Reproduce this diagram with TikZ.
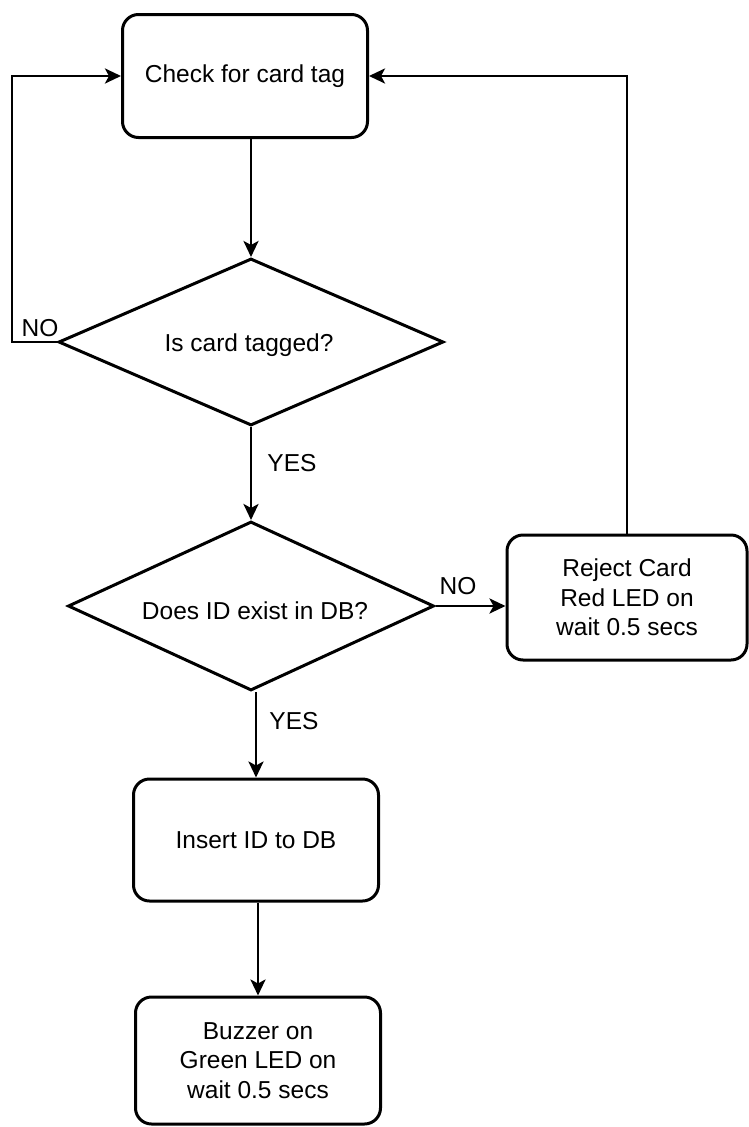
\documentclass[tikz,border=0pt]{standalone}
\usepackage{fontspec}
\setmainfont{Liberation Sans}
\usetikzlibrary{shapes.geometric,arrows.meta}
\begin{document}
\begin{tikzpicture}[x=1pt,y=-1pt,
  every node/.style={font=\fontsize{24.5}{29.5}\selectfont},
  procbox/.style={draw,line width=3pt,rounded corners=16pt,inner sep=0pt,align=center},
  decision/.style={draw,diamond,line width=3pt,inner sep=0pt,align=center},
  flow/.style={line width=2.8pt,-{Stealth[length=16pt,width=15pt,inset=4pt]}},
  lbl/.style={inner sep=0pt}
]
\useasboundingbox[fill=white] (0,0) rectangle (748,1127);

\node[procbox,minimum width=245pt,minimum height=123pt] (check) at (245,76) {Check for card tag};
\node[decision,minimum width=385pt,minimum height=167pt] (tagged) at (251,342) {};
\node at (249,345) {Is card tagged?};
\node[decision,minimum width=366pt,minimum height=169pt] (exist) at (251,606) {};
\node at (255,611) {Does ID exist in DB?};
\node[procbox,minimum width=240pt,minimum height=125pt] (reject) at (627,597.5) {Reject Card\\Red LED on\\wait 0.5 secs};
\node[procbox,minimum width=245pt,minimum height=122pt] (insert) at (256,840) {Insert ID to DB};
\node[procbox,minimum width=245pt,minimum height=127pt] (buzzer) at (258,1060.5) {Buzzer on\\Green LED on\\wait 0.5 secs};

\coordinate (nl1) at (12,342);
\coordinate (nl2) at (12,76);
\coordinate (rl) at (627,76);

\draw[flow] (check.south -| tagged.north) -- (tagged.north);
\draw[flow] (tagged.west) -- (nl1) -- (nl2) -- (check.west);
\draw[flow] (tagged.south) -- (exist.north);
\draw[flow] (exist.east) -- (reject.west |- exist.east);
\draw[flow] (reject.north) -- (rl) -- (check.east);
\draw[flow] (exist.south -| insert.north) -- (insert.north);
\draw[flow] (insert.south -| buzzer.north) -- (buzzer.north);

\node[lbl] (no1) at (40,328) {NO};
\node[lbl] (yes1) at (292,463) {YES};
\node[lbl] (no2) at (458,586) {NO};
\node[lbl] (yes2) at (294,721) {YES};
\end{tikzpicture}
\end{document}
